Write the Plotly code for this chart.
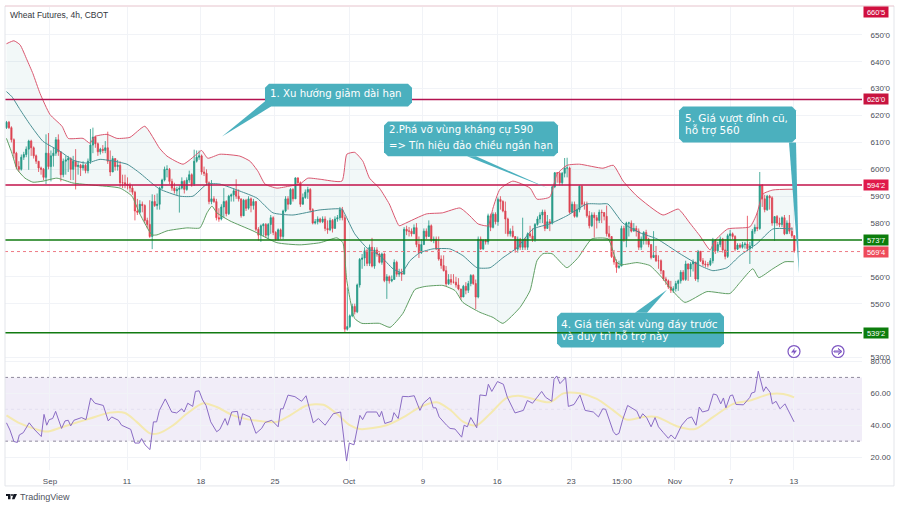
import plotly.graph_objects as go

# Wheat Futures 4h
first_open = 615.5
close = [
    617.5,615.5,611,606,601,600,604.5,605.5,607.5,610.5,
    608,605,603,600.5,600,597,606,601,605,606,
    611,606.5,598,603,603.5,604,600,603,601,601.5,
    600.5,601.5,599.5,603,609,612,609.5,606.5,607.5,607,
    608,603,599,604,601,601.5,595,595,594.5,594,
    593,591.5,584.5,584,587,586.5,581,579.5,575,588,
    586.5,587,593,596,600,600,595.5,593,592,592.5,
    593,595.5,592.5,596,598,594.5,603,604.5,605,599,
    598.5,595,588,589,588,582,581.5,586,588,583.5,
    590,590.5,592,590,589,582.7,588.5,585.5,589,586.5,
    588,577.7,575.5,579,579.5,575.5,579.5,582,576.5,574,
    577.5,575,584.5,589,587,592.5,589,596.8,595,587,
    589.5,591.5,592.5,585,580,580.5,581.5,580.5,581.5,578,
    577.5,581,578,581.5,582,585,582,540.5,541.5,545.5,
    549,547,557,566.5,567,569.7,565,571,564,570,
    568.5,565.4,568.5,558.6,560,558.5,559,565.4,561,561.5,
    561,577.7,577,577,576,578.3,572,569,572,577,
    575,579,573.5,574,570.4,566.6,564.2,562.3,557.4,559,
    558,558,557,555.5,552.5,556.5,555,557.5,560.5,557.5,
    552.5,574,570.4,573.5,573,582.7,578.4,583.3,580.5,588.8,
    588,584.5,581.5,576,577,575,570.3,574,571,574,
    571,576,575.2,574,579.5,581.5,583,584.1,578,580.5,
    580,593.5,598.7,598.5,595,598.5,600.5,600.5,584,587,
    582.5,585,593.7,587,587,582.7,579,583,582,581,
    584,583.9,582.5,576,575,567.5,565.5,563.5,564,578,
    574,580,580,577,578,577,571,574,576.5,574,
    572,567.2,568,566,566,562.3,559.2,558.5,556.2,555,
    555.6,557.5,558.5,561.7,559,564.8,562.9,564.8,565.5,559.2,
    569.5,566,564.8,564.5,564.5,566,573.4,569.7,572,574,
    570,567.6,575.3,576,575,570.3,571.8,571,572,572.2,
    570.5,571.5,577,578.4,578,594,589,585,590,589.4,
    580,582.4,580,579.5,582,576,580,577,575.3,569.7,
]
high = [
    618,618,616,611.5,606.5,603,605.5,606.5,608.5,611,
    611,608.5,605.5,603,601,600.5,613,613.5,607,608,
    612,613,606.5,604,605,605,604.5,605,607.5,603,
    602,603,602,604,615,615.5,612.5,610,608,609,
    610.5,614,607,605,604,603.5,603,598,598,597,
    595,594,592,589,588.5,588,587,582,588.5,590.7,
    590.5,591,593.5,596.5,601,601.5,600.5,596.5,595,593.5,
    594,597,596,597,599.5,598.5,607.3,607,607,605.5,
    601,600,595.5,596,590,589,585.5,587,593,588.5,
    590.5,591,593,596.3,592.5,589,589,589,590,589.5,
    589,588,578.5,579.5,580,580,580,583,582.5,577,
    578,578,585,590,590,593,593,597,597,595.5,
    591,592.5,593.5,593,585.5,581.5,582.5,582,582.5,582.5,
    581,582,581.5,582.5,583,586,586,583,556,546,
    550,550,557.5,567,568.5,571,570.5,572,574.5,571,
    571,569,569,569,561,560.5,560.5,566.5,566,563,
    563,578.5,579,578.5,578,579.5,580,575,574,578,
    578,581,579.5,575,575,575,568,568,564,561,
    561,561,560,559.5,555.5,557,558,558.5,561,561,
    559,575,575,574,574,583.5,583.5,584,584,589.5,
    590,588.5,588,582,578,579,575,575,574.5,582,
    574.5,576.5,579,578,580,582.5,584,585,585,583,
    581.5,594,599,599,599,599,604.2,604.3,601,588,
    588,587,594,594,588,588,584.5,584,584,583,
    585,585,584,586.5,579,574,570,566.5,566,579,
    579,580.5,580.5,581,580,579,578,575,577,577.5,
    574.5,572,577,571.5,568,566.5,562.5,560,559,558.5,
    556.5,558.5,559,562.5,562.5,566,565,565.5,566.5,563.5,
    570,569,567,566,565.5,567,574.5,574,573,575,
    574.5,574,576,577.5,576.5,575.5,572.5,572.5,573,573,
    582.7,573,577.8,579.5,584,599,594.5,590.5,590.5,590.5,
    590,582.5,583,582,582.5,583,581,583,578.5,575.5,
]
low = [
    615,615,610,604,600,599,599.5,603.5,604.5,599.8,
    605,604,602,599,598,596,594.5,600,595.5,601,
    605,605,595.5,597,598,599,596,596,592.5,598,
    597.5,599.5,598.5,598.5,602,606,608,605,605.5,606,
    606,602,597.5,599,599.5,599.5,593.5,593,593,592.5,
    591.5,590.5,581,583,583.5,584,580,578,574.5,570.3,
    586,585,585,592.5,595.5,597,594.5,592,591,590.5,
    583.9,592.5,591,592,595,593.5,593.8,602.5,603.5,598,
    597.5,594,587,587,587.5,581,580.5,581,582,582.5,
    583,588,588,589,588,582,583,584.5,585,584,
    585,577,573.5,573,575,574.5,574,576,575.5,573.5,
    573.5,574,574,584,585,587,588,589,594,586,
    588,589,589,584,579.5,579.5,579.5,580,580,577,
    576,577,576.5,578,580.5,581,581,539.5,540,541,
    545,546,546.5,556,563,564,564,564,563.5,563,
    567.5,565,564.5,558,551.8,557.5,558,559,560,560,
    558.5,561,575.5,575,575,576,571,567,568.5,572,
    574,575,573,572.5,570,566,563,562,556.5,557,
    557,557.5,556,555,551.5,553,553.5,554,556.5,557,
    548,552,570,570,572,572,577,578,579.5,579,
    585,584,576,575,575,574.5,569,569,570,570,
    570,570,574.5,573,573,579,580,580,577,578,
    577,579.5,593,595,594,594,597,597,583.5,584,
    582,582,584,586,585,582,578,578.5,574.6,578,
    580,580,581,575,574,567,564.5,561.5,563,565,
    573,571,575,576.5,577,575,570,570,572,572,
    571,566.5,567,565.5,563,561,558.5,557,555.5,554,
    554,554.5,554.8,557.5,558.5,558.5,558.5,560,562,558.5,
    558,565.5,564,563.5,563.5,564,565,568.5,569,571,
    569,566.5,567,573.5,574,569.5,570,570.5,570.5,570.5,
    569.5,564.8,570.5,576,577,577.5,586,584,584.5,585,
    579,573.4,579,578.5,578.5,575.5,576,576,574.5,569,
]

# Bollinger bands, read at the line's visible bends
upper_bar = [0,3,5.5,8.3,10.7,13.6,17.6,22.5,25,31,33.8,35.8,40.7,44.7,50,56,62,65,71.5,77,79,81.5,86.4,94.5,98.6,101.8,104.7,109.5,114.8,118.8,122,127,135.8,137.8,141,144.3,147,151,155,159,161,170,176.5,183.6,187.6,190.9,195,197,199.8,205,212,214.8,220,222.9,227,232,241.5,245.7,249.7,255.3,265.8,272,276.7,280.8,284.9,286.8,292,301,303.8,306.3,310.3,319]
upper = [646.7,647.8,646.3,640.7,635.6,628.2,620.4,616,611.5,611.5,609.7,612.2,613,611.5,611.9,616,607.8,604.9,601.9,605.6,607,604.1,605.6,604.9,603,599.3,594.5,593,593.8,594.5,596.7,596.3,595.6,605.6,606.3,603,596.7,593,587.1,579,579.7,583.4,583.8,585.6,582.7,579.7,579,585.6,592.6,595.6,593,588.9,589.7,598.2,601.5,601.9,600.4,601.5,595.6,590,583,585.2,580,575.2,570,573.4,577.8,578.6,583.4,590.8,592.3,592.6]
mid_bar = [0,2.2,5.5,9.5,14.8,21.7,26.9,32.6,37.9,48.8,54,59.3,62.1,70.2,75.5,81.2,86.4,94.5,101.4,107.9,116,127,135.8,137,141,145.9,151.2,156.5,160,163.4,167.4,172.7,179.5,184.8,190.5,195.8,201,206.7,213.2,220,226.9,235,240.3,243.5,249.6,256.5,263.4,272.7,280.8,286,291.7,297,303.8,310.3,318.4]
mid = [628.9,627,622.2,616.7,610.4,606.7,603.4,602.3,603.7,601.9,598.6,594.5,592.6,590,590,594.5,594.5,591.9,589.3,583.8,583,584.9,585.2,583.4,576,570.8,567.9,563,561.6,566,569,570.4,570.4,567.9,563.4,563.4,567.1,570.8,577.8,579.7,582.7,587.1,587.1,587.1,580,576.4,574.1,568.6,564.2,562.3,563.4,567.9,572.3,577.8,577.8]
lower_bar = [0,2.2,4.3,7.5,10.7,14.8,20.4,26.9,35,46,50.8,54,58.9,60.9,65,73,78.3,81.2,83.2,85.2,90.5,99.8,109.5,118.8,127,133.8,136.2,137.8,141,143.9,151,155.3,160.5,165.4,169.4,176.7,181.6,184.8,191.7,197,201,207.9,212,214.8,217.2,220.9,226.9,231.4,237,243.6,247.2,249.2,255.3,260.5,265.8,268.6,274.7,283.6,292.9,297,302.2,304.6,310.3,315.2,318.8]
lower = [611.5,606,600,596.7,595.2,595.6,596.7,594.9,594.1,593,590,583.4,575.6,575.6,577.1,578.2,578.2,583.8,586.3,583.8,580.8,577.1,572.7,571.9,572.7,574.5,572.7,558.6,544.5,542.7,542.7,541.2,546.4,555.3,556.4,556.8,554.9,550.5,546.8,544.9,542.7,548.6,554.9,566,568.6,568.6,563.4,567.1,574.1,574.1,565.3,564.5,565.3,564.2,559.3,556,550.5,554.5,553.8,557.9,563,559.7,563,565.6,565.6]

# RSI line and its moving average
rsi_bar = [0,1.4,3,4.4,5.2,6.8,9.2,11.5,14.1,15.2,16.3,17.3,18.7,19.9,22.3,23.7,25,26,27.3,30.4,32.2,34.1,35.8,39.2,41.2,42.6,45.3,46.6,50.3,52,53.8,54.7,56.1,58.1,59.5,60.8,61.9,64.3,66.9,68.9,71,71.9,73.4,75.4,76.5,78,79.4,80.8,82.7,85.1,86.4,88.5,89.5,91.2,93.5,94.5,95.6,98.6,101,103.3,104.7,107.4,110,111,112,114,116.8,119.5,121.3,122.9,124.2,126.3,129,132.3,135.3,137.7,138.8,140.7,143.1,144.2,145.8,149.9,151,151.9,153.2,156,156.9,158.6,160.3,162.7,165.1,167.4,168.8,171.5,172.8,173.9,175.2,178.2,179.6,181.6,184.3,185.3,186.6,188,190.4,191.7,194.2,195.1,196.5,198.8,201.2,202.8,205.9,209.3,210.9,213,216.7,218.3,220.8,221.7,222.8,224.1,226.4,227.5,229.8,232.2,234.3,237.6,239.7,241.4,242.6,245.7,246.8,248,249.5,251.5,255.2,256.5,257.6,259.2,261,262.6,264,266,268,269.1,270.7,273.4,275.7,277.4,279.2,280.5,281.8,284.2,286.2,287.6,289.2,290.3,291.3,293,294,295.4,298.4,301,301.7,303,304.4,306.5,307.5,309.2,310.1,311.6,313.2,315.2,316.6,318.9]
rsi = [41.5,37,29.8,29.2,33.9,35.3,41.5,37,32.9,46.8,40,43.5,44.2,48.7,38,42.7,43.1,39.6,43.1,44.8,43.5,57.1,53.8,52.4,42.7,45.2,43.1,40,37.4,28.8,28.8,31.6,27.7,24.7,42.1,42.1,49.3,56.5,48.3,47.7,50.3,48.3,53.8,51.8,61.2,61.6,55.9,52.4,42.1,35.9,37.4,44.2,40,48.3,48.7,40,47.2,45.2,34.9,38,41.7,43.1,39,50.3,50.3,58.9,57.9,55,58.5,48.3,41.5,44.2,40,47.2,48.3,17.5,28.8,27.7,46.2,43.5,48.3,48.3,45.2,48.7,41.1,42.5,47.9,44.2,58.1,57.9,58.5,49.3,53.8,57.5,50.9,50.9,45.2,40,38,37.6,32.5,40,39,44.8,38.4,59,58.5,65.7,61.2,67.4,65.7,57.5,47.7,49.3,55.5,53.8,61.2,57.5,55,68.8,70.9,66.1,69.8,51.8,53,59,49.3,48.3,45.2,50.3,50,36,33.9,34.9,43.5,52.4,48.9,44.2,47.2,44.8,39,44.8,39,35.3,31.8,33.9,31.4,40,44.2,45.2,40,51.4,48.3,49.3,59.6,59,53.4,57.1,50.9,58.5,59,53,52.8,57.5,60.2,60.8,73.9,61.2,64.1,60.6,53.4,55,50.3,53.4,48.9,42.1]
rsi_ma_bar = [0,5.5,10.9,16.3,21.7,27.1,33.8,41.9,48,52.7,58.1,61.5,67.5,73,79.7,85.1,91.8,100,109.4,114.8,121.5,128.3,133.7,139,143.1,153.9,162,167.4,174.2,179.6,185,190.4,195.8,202.5,207.3,213.3,220,225.5,232.2,239,245.7,251.1,257.9,263.3,271.4,278.8,286.2,294.3,301,309.2,314.6,318.9]
rsi_ma = [46.2,41.1,38,36,38.4,41.1,44.2,47.9,47.7,42.1,34.9,34.9,40,47.2,53.8,51.4,46.2,43.1,42.1,46.2,52.4,52.8,47.2,40,37.6,40,46.2,51.4,54.4,49.7,42.1,40,47.2,57.1,58.5,56.5,54.4,60,60,56.5,49.3,43.5,45.2,45.2,39.4,37.6,45.2,53.4,55.5,59.6,59.6,57.5]

price_ticks = [650,640,630,620,610,600,590,580,560,550,530]
rsi_ticks = [80,60,40,20]
date_ticks = [17.6,48.8,78.7,108.7,138.7,168.6,198.7,228.7,249.2,270.6,293.3,318.8]
date_labels = ["Sep","11","18","25","Oct","9","16","23","15:00","Nov","7","13"]

# level, tag text, line colour, tag colour
levels = [
    (626.0,"626'0","#b3124f","#c8143f"),
    (594.2,"594'2","#c2124a","#e0194a"),
    (573.7,"573'7","#117a11","#0c7d0c"),
    (539.2,"539'2","#117a11","#0c7d0c"),
]
last_price = 569.4

W, H = 904, 508
LEFT, RIGHT, TOP, BOTTOM = 5, 862, 5, 470
PANE = 359


def px(x):
    return (x - LEFT) / (RIGHT - LEFT)


def py(y):
    return (BOTTOM - y) / (BOTTOM - TOP)


def poly(points):
    return "M" + " L".join(f"{px(a):.5f},{py(b):.5f}" for a, b in points) + " Z"


def box_path(x0, y0, x1, y1, r=4):
    pts = [(x0+r,y0),(x1-r,y0),(x1,y0+r),(x1,y1-r),(x1-r,y1),(x0+r,y1),(x0,y1-r),(x0,y0+r)]
    return poly(pts)


bar_idx = list(range(len(close)))
opens = [first_open] + close[:-1]

fig = go.Figure()

# bands first so the candles sit on top
fig.add_trace(go.Scatter(x=lower_bar, y=lower, mode="lines", line=dict(color="#5f9e63", width=1, shape="spline", smoothing=0.5)))
fig.add_trace(go.Scatter(x=upper_bar, y=upper, mode="lines", fill="tonexty", fillcolor="rgba(0,110,120,0.05)",
                         line=dict(color="#d9576f", width=1, shape="spline", smoothing=0.5)))
fig.add_trace(go.Scatter(x=mid_bar, y=mid, mode="lines", line=dict(color="#4a8f93", width=1, shape="spline", smoothing=0.5)))
fig.add_trace(go.Candlestick(
    x=bar_idx, open=opens, high=high, low=low, close=close, whiskerwidth=0,
    increasing=dict(line=dict(color="#259a86", width=0.8), fillcolor="#259a86"),
    decreasing=dict(line=dict(color="#e8404f", width=0.8), fillcolor="#e8404f"),
))

# RSI pane
fig.add_trace(go.Scatter(x=rsi_ma_bar, y=rsi_ma, yaxis="y2", mode="lines", line=dict(color="#f4e9b0", width=2, shape="spline", smoothing=0.8)))
fig.add_trace(go.Scatter(x=rsi_bar, y=rsi, yaxis="y2", mode="lines", line=dict(color="#8a6cc4", width=1)))

shapes = []
# RSI band behind everything
shapes.append(dict(type="rect", xref="paper", x0=0, x1=1, yref="y2", y0=30, y1=70, fillcolor="rgba(126,87,194,0.11)", line_width=0, layer="below"))
for v, c in [(70, "#8f8a9e"), (50, "#e3dff0"), (30, "#8f8a9e")]:
    shapes.append(dict(type="line", xref="paper", x0=0, x1=1, yref="y2", y0=v, y1=v, line=dict(color=c, width=1, dash="3px,3px"), layer="below"))

# callout 4 lies under the level lines, the others above them
teal = "#4bb0be"
shapes.append(dict(type="path", xref="paper", yref="paper", line_width=0, fillcolor=teal, path=box_path(557, 312, 724, 347)))
shapes.append(dict(type="path", xref="paper", yref="paper", line_width=0, fillcolor=teal, path=poly([(635,312),(647,312),(667,289)])))

for lv, _, col, _ in levels:
    shapes.append(dict(type="line", xref="paper", x0=0, x1=1, yref="y", y0=lv, y1=lv, line=dict(color=col, width=1.5)))
shapes.append(dict(type="line", xref="paper", x0=0, x1=1, yref="y", y0=last_price, y1=last_price, line=dict(color="#ee7a85", width=1, dash="dot")))

for x0, y0, x1, y1 in [(265, 82, 412, 105), (384, 120, 558, 155), (679, 105, 796, 141)]:
    shapes.append(dict(type="path", xref="paper", yref="paper", line_width=0, fillcolor=teal, path=box_path(x0, y0, x1, y1)))
for tail in [[(266,99),(271,105),(222,135)], [(467,155),(476,155),(548,187)], [(789,141),(796,141),(799,273)]]:
    shapes.append(dict(type="path", xref="paper", yref="paper", line_width=0, fillcolor=teal, path=poly(tail)))

# frame
frame = "#e3e5ea"
shapes.append(dict(type="line", xref="paper", yref="paper", x0=0, x1=px(894), y0=py(486), y1=py(486), line=dict(color=frame, width=1)))
shapes.append(dict(type="line", xref="paper", yref="paper", x0=px(894), x1=px(894), y0=py(4), y1=py(486), line=dict(color=frame, width=1)))
shapes.append(dict(type="line", xref="paper", yref="paper", x0=0, x1=0, y0=py(4), y1=py(486), line=dict(color=frame, width=1)))
shapes.append(dict(type="line", xref="paper", yref="paper", x0=0, x1=px(894), y0=py(4), y1=py(4), line=dict(color="#e6c3cc", width=1)))

# the two small purple buttons
purple = "#7e57c2"
for cx in [794, 838]:
    shapes.append(dict(type="circle", xref="paper", yref="paper", x0=px(cx-6), x1=px(cx+6), y0=py(357), y1=py(345), line=dict(color=purple, width=1.2), fillcolor="white"))
shapes.append(dict(type="path", xref="paper", yref="paper", line_width=0, fillcolor=purple, path=poly([(795,347),(791,352),(794,352),(793,355),(797,350),(794,350)])))
shapes.append(dict(type="path", xref="paper", yref="paper", line=dict(color=purple, width=1), path=poly([(834,350.5),(841,350.5),(838,348),(842,351),(838,354),(841,351.5),(834,351.5)])))

# logo
shapes.append(dict(type="path", xref="paper", yref="paper", line_width=0, fillcolor="#131722", path=poly([(6,494),(10.5,494),(10.5,499.5),(8,499.5),(8,496),(6,496)])))
shapes.append(dict(type="circle", xref="paper", yref="paper", line_width=0, fillcolor="#131722", x0=px(11), x1=px(13), y0=py(496), y1=py(494)))
shapes.append(dict(type="path", xref="paper", yref="paper", line_width=0, fillcolor="#131722", path=poly([(13.5,494),(17,494),(14.5,499.5),(12,499.5)])))

annos = []


def label(text, x, y, size=8, color="#333740", anchor="left", font="Liberation Sans"):
    annos.append(dict(text=text, xref="paper", yref="paper", x=px(x - 2), y=py(y), xanchor=anchor, yanchor="middle",
                      showarrow=False, font=dict(size=size, color=color, family=font)))


label("Wheat Futures, 4h, CBOT", 10, 13, size=8.5)
label("TradingView", 20, 497, size=9, color="#50535e")

note_font = "DejaVu Sans"
label("1. Xu hướng giảm dài hạn", 270, 92, size=10.2, color="white", font=note_font)
label("2.Phá vỡ vùng kháng cự 590", 389, 129, size=10.1, color="white", font=note_font)
label("=> Tín hiệu đảo chiều ngắn hạn", 389, 144, size=10.1, color="white", font=note_font)
label("4. Giá tiến sát vùng đáy trước", 561, 323, size=10.5, color="white", font=note_font)
label("và duy trì hỗ trợ này", 561, 336, size=10.5, color="white", font=note_font)
label("5. Giá vượt đỉnh cũ,", 685, 117, size=10.5, color="white", font=note_font)
label("hỗ trợ 560", 685, 129, size=10.5, color="white", font=note_font)

# price tags on the scale; the top one sits clipped at the pane's edge
tag_font = dict(size=7.5, color="white", family="Liberation Sans")
annos.append(dict(text="660'5", xref="paper", yref="paper", x=px(876), y=py(10), xanchor="center", yanchor="middle",
                  showarrow=False, bgcolor="#d0103f", width=24, height=10, borderpad=0, font=tag_font))
tags = [(last_price, "569'4", "#ee4a5a")] + [(lv, txt, tc) for lv, txt, _, tc in levels]
for val, txt, col in tags:
    annos.append(dict(text=txt, xref="paper", yref="y", x=px(876), y=val, xanchor="center", yanchor="middle",
                      showarrow=False, bgcolor=col, width=24, height=10, borderpad=0, font=tag_font))

split = (BOTTOM - PANE) / (BOTTOM - TOP)
grid = "#f1f3f7"
axis_font = dict(size=8, color="#4a4d57", family="Liberation Sans")

fig.update_layout(
    width=W, height=H, autosize=False,
    margin=dict(l=LEFT, r=W - RIGHT, t=TOP, b=H - BOTTOM),
    paper_bgcolor="white", plot_bgcolor="white",
    showlegend=False,
    shapes=shapes, annotations=annos,
    xaxis=dict(range=[-0.6, 346.4], anchor="y2", rangeslider=dict(visible=False), showline=False, zeroline=False,
               tickmode="array", tickvals=date_ticks, ticktext=date_labels, tickfont=axis_font,
               showgrid=True, gridcolor=grid, ticks="outside", ticklen=3, tickcolor="rgba(0,0,0,0)"),
    yaxis=dict(domain=[split, 1], range=[529.26, 660.37], side="right", anchor="x", tickmode="array",
               tickvals=price_ticks, ticktext=[f"{t}'0" for t in price_ticks], tickfont=axis_font,
               showgrid=True, gridcolor=grid, zeroline=False, showline=False, ticks="outside", ticklen=6, tickcolor="rgba(0,0,0,0)"),
    yaxis2=dict(domain=[0, split], range=[11.9, 81.25], side="right", anchor="x", tickmode="array",
                tickvals=rsi_ticks, ticktext=[f"{t}.00" for t in rsi_ticks], tickfont=axis_font,
                showgrid=True, gridcolor=grid, zeroline=False, showline=False, ticks="outside", ticklen=6, tickcolor="rgba(0,0,0,0)"),
)

fig.write_html("out.html", config=dict(displayModeBar=False),
               post_script="document.body.style.margin='0';document.body.style.overflow='hidden';")
